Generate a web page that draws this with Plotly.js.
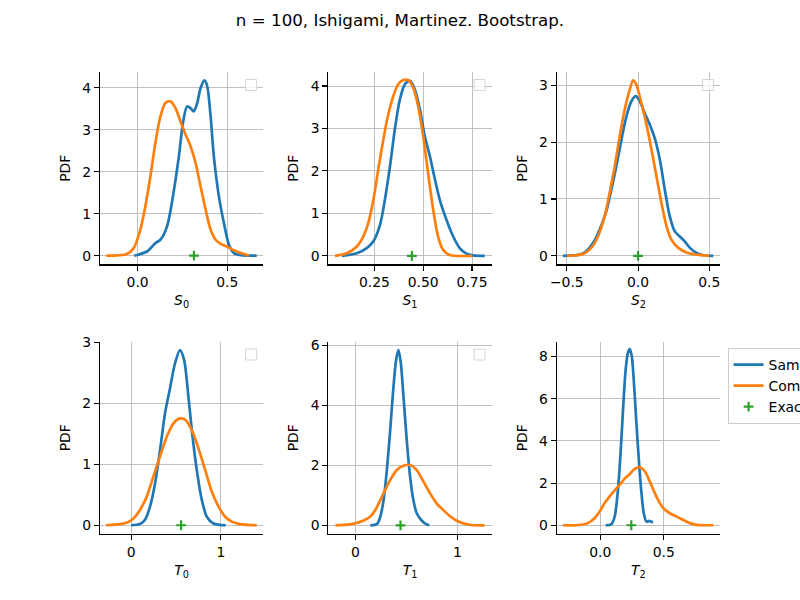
<!DOCTYPE html>
<html>
<head>
<meta charset="utf-8">
<script src="https://cdn.plot.ly/plotly-3.0.1.min.js"></script>
<style>html,body{margin:0;padding:0;background:#fff;}</style>
</head>
<body>
<div id="chart" style="width:800px;height:600px;"></div>
<script>
// ---- Data ----
const subplotLabels = ["<i>S</i><sub>0</sub>", "<i>S</i><sub>1</sub>", "<i>S</i><sub>2</sub>",
                       "<i>T</i><sub>0</sub>", "<i>T</i><sub>1</sub>", "<i>T</i><sub>2</sub>"];
const seriesNames = ["Sample", "Computed", "Exact"];
const exactValues = [0.314, 0.442, 0.0, 0.558, 0.442, 0.244];

const s0SampleX = [-0.019, 0.052, 0.099, 0.127, 0.164, 0.2, 0.23, 0.254, 0.276, 0.295, 0.313, 0.332, 0.351, 0.373, 0.388, 0.407, 0.425, 0.453, 0.481, 0.509, 0.537, 0.575, 0.664];
const s0SampleY = [0, 0.1, 0.3, 0.38, 0.7, 1.5, 2.37, 3.2, 3.56, 3.52, 3.44, 3.64, 4.0, 4.18, 4.04, 3.32, 2.37, 1.42, 0.78, 0.26, 0.06, 0.01, 0];
const s0CompX = [-0.175, -0.06, -0.022, 0.015, 0.043, 0.071, 0.099, 0.127, 0.155, 0.183, 0.211, 0.239, 0.267, 0.295, 0.323, 0.351, 0.379, 0.407, 0.435, 0.463, 0.5, 0.537, 0.584, 0.621];
const s0CompY = [0, 0.04, 0.18, 0.62, 1.18, 1.89, 2.69, 3.32, 3.64, 3.68, 3.52, 3.2, 2.89, 2.61, 2.21, 1.65, 1.1, 0.62, 0.38, 0.28, 0.21, 0.13, 0.05, 0];

const s1SampleX = [0.083, 0.16, 0.211, 0.245, 0.279, 0.304, 0.33, 0.355, 0.381, 0.406, 0.432, 0.457, 0.483, 0.508, 0.534, 0.56, 0.585, 0.619, 0.653, 0.687, 0.721, 0.755, 0.815];
const s1SampleY = [0, 0.06, 0.18, 0.34, 0.73, 1.32, 2.11, 2.98, 3.69, 4.04, 4.12, 3.92, 3.45, 2.82, 2.35, 1.8, 1.32, 0.85, 0.46, 0.18, 0.05, 0.01, 0];
const s1CompX = [0.049, 0.109, 0.16, 0.194, 0.219, 0.245, 0.27, 0.296, 0.321, 0.347, 0.372, 0.398, 0.423, 0.449, 0.474, 0.5, 0.525, 0.551, 0.576, 0.602, 0.636, 0.752];
const s1CompY = [0, 0.06, 0.22, 0.46, 0.77, 1.32, 2.03, 2.74, 3.33, 3.76, 4.04, 4.14, 4.14, 3.96, 3.53, 2.82, 1.95, 1.09, 0.46, 0.14, 0.02, 0];

const s2SampleX = [-0.528, -0.411, -0.364, -0.317, -0.27, -0.223, -0.188, -0.153, -0.117, -0.082, -0.047, -0.016, 0.012, 0.047, 0.082, 0.117, 0.153, 0.188, 0.223, 0.258, 0.293, 0.329, 0.364, 0.411, 0.458, 0.528];
const s2SampleY = [0, 0.02, 0.08, 0.22, 0.46, 0.78, 1.16, 1.57, 2.04, 2.45, 2.72, 2.81, 2.72, 2.51, 2.31, 2.07, 1.69, 1.16, 0.69, 0.43, 0.34, 0.25, 0.14, 0.05, 0.01, 0];
const s2CompX = [-0.5, -0.387, -0.329, -0.282, -0.235, -0.2, -0.164, -0.129, -0.094, -0.059, -0.035, -0.012, 0.023, 0.059, 0.094, 0.129, 0.164, 0.2, 0.235, 0.282, 0.34, 0.411, 0.5];
const s2CompY = [0, 0.03, 0.14, 0.34, 0.69, 1.1, 1.57, 2.1, 2.57, 2.92, 3.09, 3.01, 2.69, 2.31, 1.87, 1.4, 0.93, 0.52, 0.28, 0.14, 0.06, 0.02, 0];

const t0SampleX = [0.0, 0.1, 0.156, 0.212, 0.268, 0.323, 0.379, 0.435, 0.491, 0.546, 0.591, 0.639, 0.677, 0.732, 0.788, 0.844, 0.918, 1.056];
const t0SampleY = [0, 0.02, 0.09, 0.31, 0.69, 1.23, 1.84, 2.25, 2.66, 2.87, 2.71, 2.11, 1.56, 0.91, 0.42, 0.14, 0.03, 0];
const t0CompX = [-0.279, -0.123, -0.048, 0.026, 0.1, 0.175, 0.249, 0.323, 0.398, 0.472, 0.546, 0.602, 0.677, 0.751, 0.825, 0.9, 0.974, 1.048, 1.123, 1.216, 1.401];
const t0CompY = [0, 0.02, 0.04, 0.11, 0.25, 0.47, 0.8, 1.13, 1.45, 1.67, 1.75, 1.73, 1.56, 1.26, 0.91, 0.55, 0.31, 0.14, 0.06, 0.02, 0];

const t1SampleX = [0.146, 0.211, 0.244, 0.276, 0.308, 0.341, 0.373, 0.399, 0.422, 0.445, 0.471, 0.503, 0.536, 0.568, 0.601, 0.649, 0.698, 0.724];
const t1SampleY = [0, 0.04, 0.29, 0.84, 1.84, 3.18, 4.62, 5.51, 5.84, 5.4, 4.29, 2.84, 1.62, 0.84, 0.4, 0.16, 0.03, 0];
const t1CompX = [-0.195, -0.081, 0.0, 0.081, 0.146, 0.195, 0.244, 0.292, 0.341, 0.406, 0.471, 0.536, 0.601, 0.666, 0.731, 0.795, 0.86, 0.925, 0.99, 1.055, 1.136, 1.266];
const t1CompY = [0, 0.02, 0.07, 0.16, 0.29, 0.51, 0.84, 1.18, 1.51, 1.84, 1.98, 2.01, 1.84, 1.46, 1.07, 0.73, 0.51, 0.31, 0.16, 0.07, 0.01, 0];

const t2SampleX = [0.042, 0.087, 0.113, 0.139, 0.158, 0.179, 0.2, 0.218, 0.232, 0.247, 0.263, 0.284, 0.305, 0.324, 0.342, 0.363, 0.384, 0.403, 0.416];
const t2SampleY = [0, 0.05, 0.41, 1.68, 3.27, 5.49, 7.4, 8.19, 8.35, 8.03, 6.92, 4.86, 2.95, 1.52, 0.57, 0.17, 0.21, 0.16, 0.16];
const t2CompX = [-0.295, -0.189, -0.097, -0.045, -0.005, 0.034, 0.074, 0.113, 0.153, 0.192, 0.232, 0.271, 0.311, 0.35, 0.389, 0.429, 0.468, 0.508, 0.547, 0.6, 0.653, 0.705, 0.758, 0.889];
const t2CompY = [0, 0, 0.1, 0.33, 0.65, 1.05, 1.37, 1.65, 1.92, 2.21, 2.43, 2.67, 2.75, 2.56, 2.08, 1.52, 1.05, 0.73, 0.57, 0.41, 0.25, 0.1, 0.02, 0];

const yTickVals = [[0,1,2,3,4],[0,1,2,3,4],[0,1,2,3],[0,1,2,3],[0,2,4,6],[0,2,4,6,8]];
const xTickVals = [[0,0.5],[0.25,0.5,0.75],[-0.5,0,0.5],[0,1],[0,1],[0,0.5]];
const xTickFormats = [".1f", ".2f", ".1f", "d", "d", ".1f"];

// ---- Layout helpers ----
const samples = [[s0SampleX,s0SampleY],[s1SampleX,s1SampleY],[s2SampleX,s2SampleY],[t0SampleX,t0SampleY],[t1SampleX,t1SampleY],[t2SampleX,t2SampleY]];
const computed = [[s0CompX,s0CompY],[s1CompX,s1CompY],[s2CompX,s2CompY],[t0CompX,t0CompY],[t1CompX,t1CompY],[t2CompX,t2CompY]];
const xRanges = [[-0.21,0.70],[0.015,0.85],[-0.57,0.575],[-0.346,1.472],[-0.265,1.335],[-0.342,0.942]];
const yRanges = [[-0.21,4.38],[-0.205,4.33],[-0.153,3.235],[-0.143,3.01],[-0.29,6.12],[-0.415,8.71]];
const colDomains = [[0.125,0.32895],[0.41053,0.61447],[0.69605,0.9]];
const rowDomains = [[0.55917,0.88],[0.11,0.43083]];

const FONT = "DejaVu Sans, sans-serif";
const blue = "#1f77b4", orange = "#ff7f0e", green = "#2ca02c";

const traces = [];
const layout = {
  width: 800, height: 600,
  margin: {l:0, r:0, t:0, b:0, autoexpand:false},
  paper_bgcolor: "#fff", plot_bgcolor: "#fff",
  font: {family: FONT, size: 13.9, color: "#000"},
  title: {text: "n = 100, Ishigami, Martinez. Bootstrap.", font: {size: 16.7, family: FONT, color:"#000"},
          x: 0.5, xanchor: "center", y: 1 - 20/600, yanchor: "middle"},
  showlegend: true,
  legend: {x: 0.9095, xanchor: "left", y: 1 - 348/600, yanchor: "top",
           bgcolor: "rgba(255,255,255,0.8)", bordercolor: "#cccccc", borderwidth: 1,
           font: {size: 13.9, family: FONT}, tracegroupgap: 0},
  shapes: []
};

for (let i = 0; i < 6; i++) {
  const xa = i === 0 ? "x" : "x" + (i+1);
  const ya = i === 0 ? "y" : "y" + (i+1);
  const last = i === 5;
  traces.push({x: samples[i][0], y: samples[i][1], xaxis: xa, yaxis: ya, type: "scatter", mode: "lines",
               name: seriesNames[0], line: {color: blue, width: 2.7, shape: "spline", smoothing: 0.8}, showlegend: last});
  traces.push({x: computed[i][0], y: computed[i][1], xaxis: xa, yaxis: ya, type: "scatter", mode: "lines",
               name: seriesNames[1], line: {color: orange, width: 2.7, shape: "spline", smoothing: 0.8}, showlegend: last});
  traces.push({x: [exactValues[i]], y: [0], xaxis: xa, yaxis: ya, type: "scatter", mode: "markers",
               name: seriesNames[2], marker: {symbol: "cross-thin", size: 7, color: green, line: {color: green, width: 2.2}}, showlegend: last});

  const col = i % 3, row = Math.floor(i / 3);
  const axCommon = {showgrid: true, gridcolor: "#b0b0b0", gridwidth: 0.8, zeroline: false,
                    showline: true, linecolor: "#000", linewidth: 1.1, mirror: false,
                    ticks: "outside", ticklen: 5, tickwidth: 1.1, tickcolor: "#000",
                    tickfont: {size: 13.9, family: FONT, color: "#000"}, fixedrange: true};
  layout["xaxis" + (i === 0 ? "" : i+1)] = Object.assign({}, axCommon, {
    domain: colDomains[col], anchor: ya, range: xRanges[i], tickmode: "array", tickvals: xTickVals[i],
    ticktext: xTickVals[i].map(v => { const s = xTickFormats[i] === "d" ? String(v) : v.toFixed(xTickFormats[i] === ".2f" ? 2 : 1); return s.replace("-", "\u2212"); }),
    title: {text: subplotLabels[i], font: {size: 13.9, family: FONT}, standoff: 6}
  });
  layout["yaxis" + (i === 0 ? "" : i+1)] = Object.assign({}, axCommon, {
    domain: rowDomains[row], anchor: xa, range: yRanges[i], tickmode: "array", tickvals: yTickVals[i],
    title: {text: "PDF", font: {size: 13.9, family: FONT}, standoff: 8}
  });

  if (!last) {
    // empty legend frame drawn in the upper-right corner of each other panel
    const xr = colDomains[col][1] * 800, yt = (1 - rowDomains[row][1]) * 600;
    layout.shapes.push({type: "rect", xref: "paper", yref: "paper",
      x0: (xr - 17.5) / 800, x1: (xr - 6.5) / 800, y0: 1 - (yt + 18.5) / 600, y1: 1 - (yt + 7.5) / 600,
      line: {color: "#d5d5d5", width: 1}, fillcolor: "rgba(255,255,255,0.8)"});
  }
}

Plotly.newPlot("chart", traces, layout, {staticPlot: true, displayModeBar: false});
</script>
</body>
</html>
